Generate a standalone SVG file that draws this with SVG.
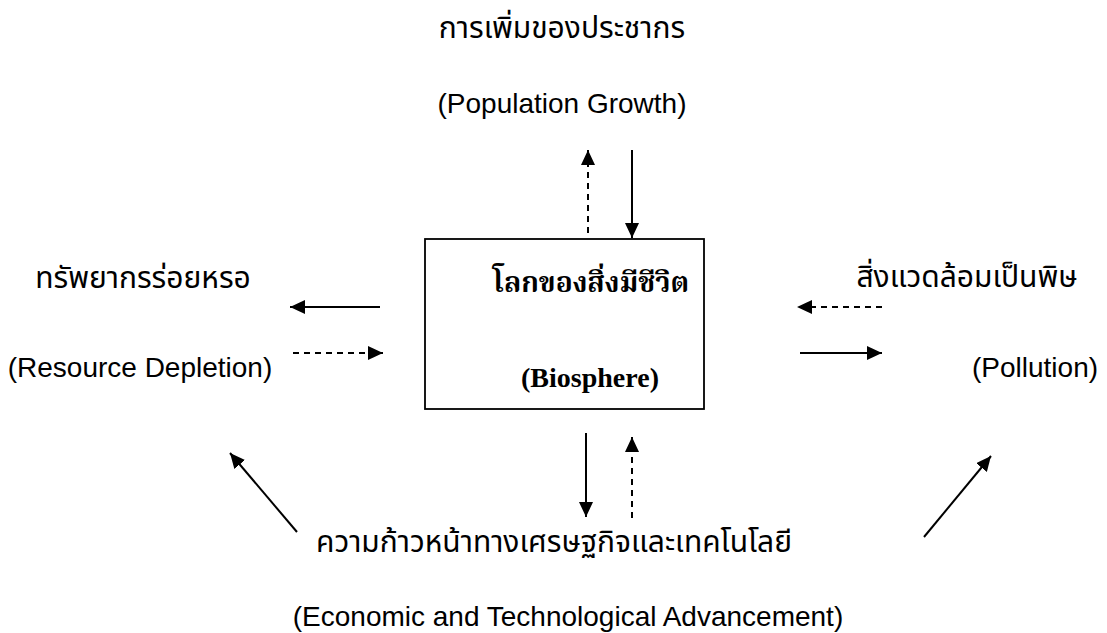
<svg xmlns="http://www.w3.org/2000/svg" width="1107" height="633" viewBox="0 0 1107 633">
<style>
.th{font-family:"Noto Sans Thai","Noto Sans","Liberation Sans",sans-serif;font-size:30px;fill:#000}
.en{font-family:"Liberation Sans",Arial,sans-serif;font-size:28px;fill:#000}
.bx{font-family:"Liberation Serif","Noto Serif Thai","Noto Sans Thai",serif;font-size:28px;font-weight:bold;fill:#000}
.ln{stroke:#000;stroke-width:2;fill:none;marker-end:url(#ah)}
.ds{stroke-dasharray:6 5}
</style>
<defs>
<marker id="ah" markerUnits="userSpaceOnUse" markerWidth="16" markerHeight="16" refX="15" refY="7" orient="auto">
<path d="M0,0 L15,7 L0,14 z" fill="#000"/>
</marker>
</defs>
<rect width="1107" height="633" fill="#fff"/>
<g id="population">
<text class="th" x="562" y="38" text-anchor="middle">การเพิ่มของประชากร</text>
<text class="en" x="562" y="113" text-anchor="middle">(Population Growth)</text>
</g>
<g id="biosphere">
<rect x="425" y="239" width="279" height="170" fill="none" stroke="#000" stroke-width="1.8"/>
<text class="bx" x="591" y="292" text-anchor="middle">โลกของสิ่งมีชีวิต</text>
<text class="bx" x="590" y="387" text-anchor="middle">(Biosphere)</text>
</g>
<g id="resource">
<text class="th" x="143" y="288" text-anchor="middle">ทรัพยากรร่อยหรอ</text>
<text class="en" x="140" y="377" text-anchor="middle">(Resource Depletion)</text>
</g>
<g id="pollution">
<text class="th" x="967" y="287" text-anchor="middle">สิ่งแวดล้อมเป็นพิษ</text>
<text class="en" x="1035" y="377" text-anchor="middle">(Pollution)</text>
</g>
<g id="economic">
<text class="th" x="316" y="552" font-size="32">ความก้าวหน้าทางเศรษฐกิจและเทคโนโลยี</text>
<text class="en" x="568" y="626" text-anchor="middle">(Economic and Technological Advancement)</text>
</g>
<g id="connectors">
<line class="ln ds" x1="588" y1="233" x2="588" y2="150"/>
<line class="ln" x1="632" y1="150" x2="632" y2="238"/>
<line class="ln" x1="380" y1="307" x2="290" y2="307"/>
<line class="ln ds" x1="293" y1="353" x2="383" y2="353"/>
<line class="ln ds" x1="882" y1="307" x2="797" y2="307"/>
<line class="ln" x1="800" y1="353" x2="882" y2="353"/>
<line class="ln" x1="586" y1="433" x2="586" y2="517"/>
<line class="ln ds" x1="632" y1="518" x2="632" y2="437"/>
<line class="ln" x1="297" y1="532" x2="230" y2="453"/>
<line class="ln" x1="924" y1="537" x2="991" y2="456"/>
</g>
</svg>
